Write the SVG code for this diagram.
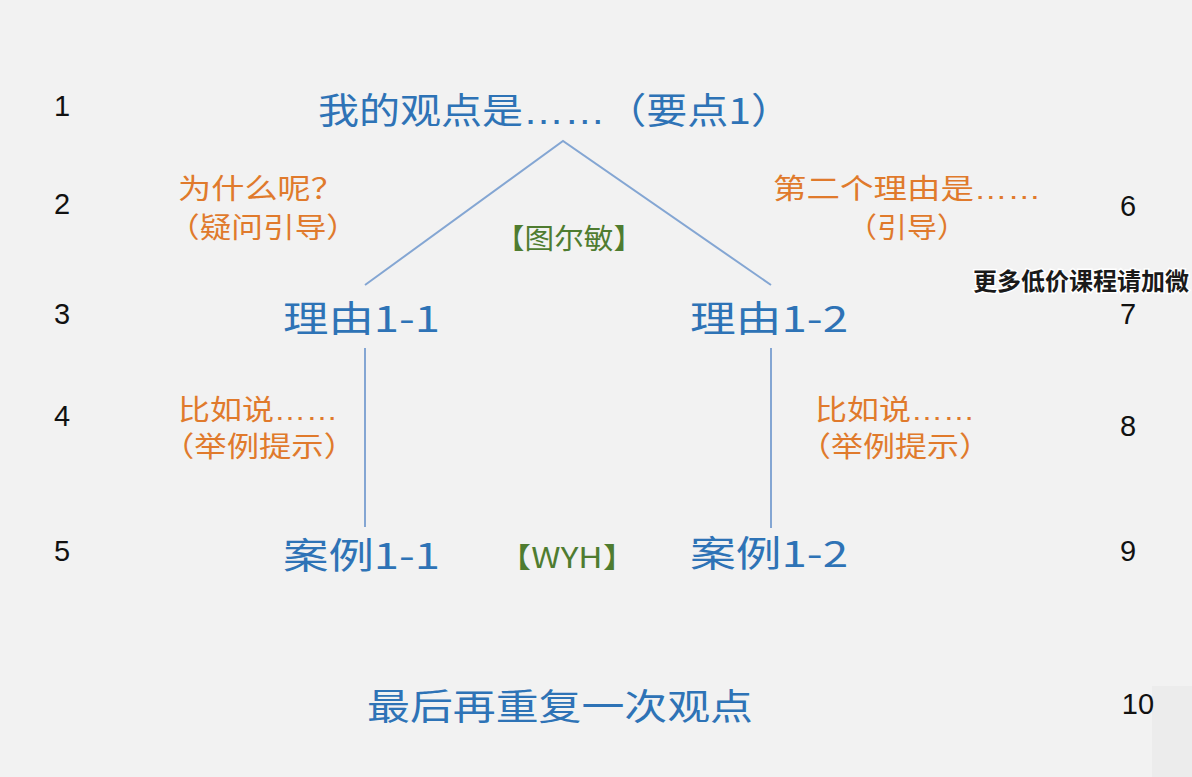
<svg xmlns="http://www.w3.org/2000/svg" width="1192" height="777" viewBox="0 0 1192 777">
<style>
text{font-family:"Noto Sans CJK SC","Liberation Sans",sans-serif;}
.blue{fill:#2e73b6;font-size:36px;}
.orange{fill:#e07a2c;font-size:28px;}
.green{fill:#4f7c30;font-size:28px;}
.el{font-family:"Liberation Sans","Noto Sans CJK SC",sans-serif;}
.num{fill:#111;font-family:"Liberation Sans","Noto Sans CJK SC",sans-serif;font-size:29px;text-anchor:middle;}
.conn{stroke:#84a6d3;stroke-width:2;fill:none;}
.wm{font-size:24px;font-weight:bold;fill:#1a1a1a;stroke:#fff;stroke-width:3;paint-order:stroke;}
</style>
<rect x="0" y="0" width="1192" height="777" fill="#f2f2f2"/>
<rect x="1152" y="686" width="40" height="91" fill="#ececec"/>
<g id="connectors">
<polyline class="conn" points="365,285 563,141 771,285"/>
<line class="conn" x1="365" y1="348" x2="365" y2="527"/>
<line class="conn" x1="771" y1="348" x2="771" y2="528"/>
</g>
<g id="numbers">
<text class="num" x="62" y="116">1</text>
<text class="num" x="62" y="214">2</text>
<text class="num" x="62" y="324">3</text>
<text class="num" x="62" y="426">4</text>
<text class="num" x="62" y="561">5</text>
<text class="num" x="1128" y="216">6</text>
<text class="num" x="1128" y="324">7</text>
<text class="num" x="1128" y="436">8</text>
<text class="num" x="1128" y="561">9</text>
<text class="num" x="1138" y="714">10</text>
</g>
<g id="main-point"><text class="blue" x="318" y="124" textLength="474" lengthAdjust="spacingAndGlyphs">我的观点是<tspan class="el">……</tspan>（要点1）</text></g>
<g id="why"><text class="orange" x="178" y="199" textLength="166" lengthAdjust="spacingAndGlyphs">为什么呢？</text>
<text class="orange" x="168" y="238" textLength="190" lengthAdjust="spacingAndGlyphs">（疑问引导）</text></g>
<g id="toulmin"><text class="green" x="495" y="249" textLength="148" lengthAdjust="spacingAndGlyphs">【图尔敏】</text></g>
<g id="second-reason"><text class="orange" x="773" y="199" textLength="268" lengthAdjust="spacingAndGlyphs">第二个理由是<tspan class="el">……</tspan></text>
<text class="orange" x="847" y="238" textLength="120" lengthAdjust="spacingAndGlyphs">（引导）</text></g>
<g id="reason-1-1"><text class="blue" x="283" y="332" textLength="157" lengthAdjust="spacingAndGlyphs">理由1-1</text></g>
<g id="reason-1-2"><text class="blue" x="690" y="332" textLength="158" lengthAdjust="spacingAndGlyphs">理由1-2</text></g>
<g id="example-hint-left"><text class="orange" x="178" y="420" textLength="160" lengthAdjust="spacingAndGlyphs">比如说<tspan class="el">……</tspan></text>
<text class="orange" x="162" y="457" textLength="194" lengthAdjust="spacingAndGlyphs">（举例提示）</text></g>
<g id="example-hint-right"><text class="orange" x="815" y="420" textLength="160" lengthAdjust="spacingAndGlyphs">比如说<tspan class="el">……</tspan></text>
<text class="orange" x="799" y="457" textLength="192" lengthAdjust="spacingAndGlyphs">（举例提示）</text></g>
<g id="case-1-1"><text class="blue" x="283" y="569" textLength="157" lengthAdjust="spacingAndGlyphs">案例1-1</text></g>
<g id="wyh"><text class="green" x="498" y="568" textLength="138" lengthAdjust="spacingAndGlyphs">【WYH】</text></g>
<g id="case-1-2"><text class="blue" x="690" y="567" textLength="158" lengthAdjust="spacingAndGlyphs">案例1-2</text></g>
<g id="conclusion"><text class="blue" x="367" y="720" textLength="386" lengthAdjust="spacingAndGlyphs">最后再重复一次观点</text></g>
<g id="watermark"><text class="wm" x="973" y="290" textLength="216" lengthAdjust="spacingAndGlyphs">更多低价课程请加微</text></g>
</svg>
